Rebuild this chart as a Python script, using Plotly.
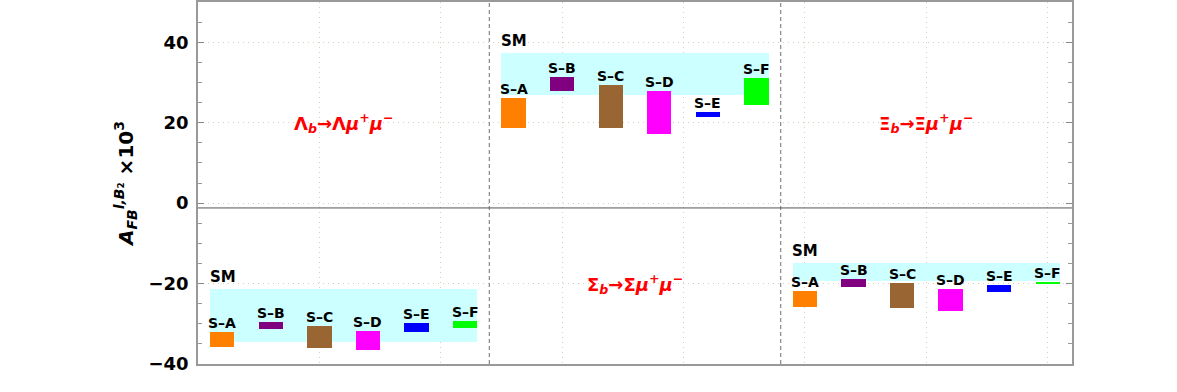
import plotly.graph_objects as go

# ---------------- data ----------------
schemes = ["S–A", "S–B", "S–C", "S–D", "S–E", "S–F"]
scheme_colors = ["#ff7f00", "#800080", "#996633", "#ff00ff", "#0000ff", "#00ff00"]
decays = ["<b>Λ<sub><i>b</i></sub>→Λ<i>μ</i><sup>+</sup><i>μ</i><sup>−</sup></b>",
          "<b>Σ<sub><i>b</i></sub>→Σ<i>μ</i><sup>+</sup><i>μ</i><sup>−</sup></b>",
          "<b>Ξ<sub><i>b</i></sub>→Ξ<i>μ</i><sup>+</sup><i>μ</i><sup>−</sup></b>"]
decay_label_y = [20, -20, 20]

sm_lo = [-34.6, 27.0, -19.4]
sm_hi = [-21.4, 37.2, -15.0]

lam_lo = [-35.7, -31.3, -36.0, -36.5, -32.1, -31.1]
lam_hi = [-32.0, -29.5, -30.5, -31.7, -29.8, -29.3]
sig_lo = [18.7, 27.9, 18.7, 17.2, 21.4, 24.3]
sig_hi = [26.2, 31.3, 29.3, 27.8, 22.7, 31.2]
xi_lo = [-25.9, -20.8, -26.0, -26.8, -22.2, -20.2]
xi_hi = [-21.8, -18.9, -19.95, -21.3, -20.4, -19.5]

panel_lo = [lam_lo, sig_lo, xi_lo]
panel_hi = [lam_hi, sig_hi, xi_hi]

PANEL_W = 12
y_ticks = [-40, -20, 0, 20, 40]

FONT = "DejaVu Sans"

fig = go.Figure()

annotations = []
for p in range(3):
    off = p * PANEL_W
    # SM band
    fig.add_trace(go.Bar(
        x=[off + PANEL_W / 2], y=[sm_hi[p] - sm_lo[p]], base=[sm_lo[p]],
        width=[PANEL_W - 1], marker=dict(color="#ccffff", line=dict(width=0)),
        showlegend=False, hoverinfo="skip"))
    annotations.append(dict(x=off + 0.4, y=sm_hi[p], text="<b>SM</b>", showarrow=False,
                            xanchor="left", yanchor="bottom", yshift=1,
                            font=dict(family=FONT, size=15, color="black")))
    for i, s in enumerate(schemes):
        xc = off + 1 + 2 * i
        lo, hi = panel_lo[p][i], panel_hi[p][i]
        fig.add_trace(go.Bar(
            x=[xc], y=[hi - lo], base=[lo], width=[1],
            marker=dict(color=scheme_colors[i], line=dict(width=0)),
            showlegend=False, hoverinfo="skip"))
        annotations.append(dict(x=xc, y=hi, text="<b>" + s + "</b>", showarrow=False,
                                xanchor="center", yanchor="bottom", yshift=-1,
                                font=dict(family=FONT, size=14, color="black")))
    annotations.append(dict(x=off + PANEL_W / 2, y=decay_label_y[p], text=decays[p],
                            showarrow=False, xanchor="center", yanchor="middle",
                            font=dict(family=FONT, size=18, color="red")))

shapes = []
for p in range(1, 3):
    shapes.append(dict(type="line", x0=p * PANEL_W, x1=p * PANEL_W, y0=-40, y1=50,
                       xref="x", yref="y", line=dict(color="#888888", width=1.2, dash="4px,3px")))
shapes.append(dict(type="line", x0=0, x1=3 * PANEL_W, y0=-1.2, y1=-1.2, xref="x", yref="y",
                   line=dict(color="#555555", width=1)))

grid_col = "rgb(222,205,188)"
fig.update_layout(
    width=1177, height=392,
    margin=dict(l=198, r=105, t=0, b=28),
    plot_bgcolor="white", paper_bgcolor="white",
    barmode="overlay", bargap=0,
    annotations=annotations, shapes=shapes,
    xaxis=dict(range=[0, 3 * PANEL_W], showticklabels=False, ticks="",
               showgrid=True, gridcolor=grid_col, griddash="1px,4px", gridwidth=1,
               dtick=5, tick0=0, zeroline=False,
               showline=True, linecolor="#999999", linewidth=1.5, mirror=True),
    yaxis=dict(range=[-40, 50], tickvals=y_ticks, ticks="inside", ticklen=6,
               tickcolor="#888888", ticklabelstandoff=4,
               minor=dict(dtick=5, ticks="inside", ticklen=4, tickcolor="#999999", showgrid=False),
               showgrid=True, gridcolor=grid_col, griddash="1px,4px", gridwidth=1,
               zeroline=False, showline=True, linecolor="#999999", linewidth=1.5, mirror="ticks",
               tickfont=dict(family=FONT, size=18, color="black", weight="bold"),
               title=dict(text="<b><i>A</i><sub><i>FB</i></sub><sup><i>l,B</i>₂</sup> ×10<sup>3</sup></b>",
                          font=dict(family=FONT, size=20, color="black"), standoff=10)),
)

fig.write_html("out.html", config={"displayModeBar": False},
               post_script="document.body.style.margin='0';document.body.style.padding='0';")
